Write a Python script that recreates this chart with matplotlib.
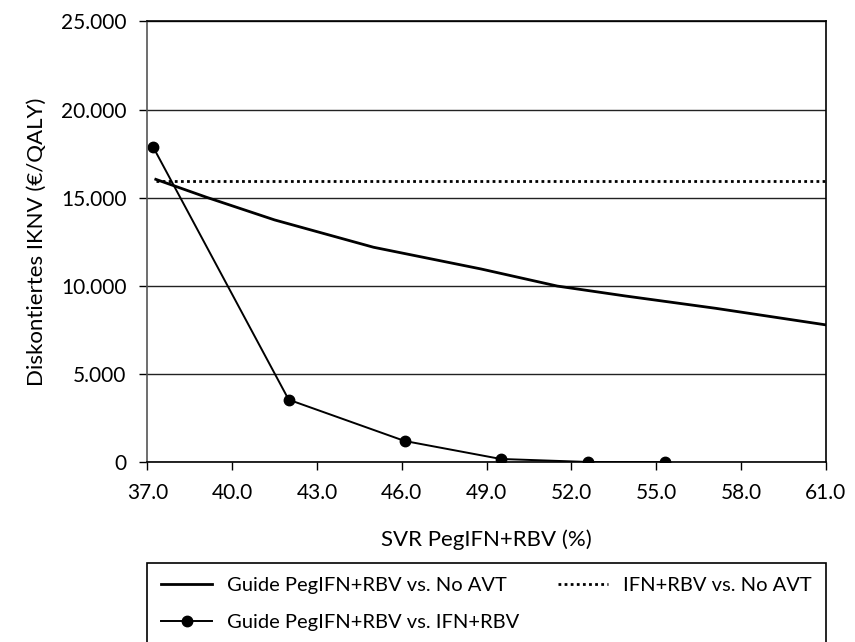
import matplotlib
matplotlib.use("Agg")
import matplotlib.pyplot as plt
import numpy as np
from matplotlib.ticker import FuncFormatter, FixedLocator, MultipleLocator

plt.rcParams['font.family'] = ['Lato', 'DejaVu Sans']

# Guide PegIFN+RBV vs. No AVT
svr_guide = [37.3, 39.1, 41.5, 45.0, 48.8, 51.5, 53.9, 57.1, 61.0]
iknv_guide = [16050, 15030, 13750, 12200, 10970, 10000, 9440, 8740, 7800]

# Guide PegIFN+RBV vs. IFN+RBV
svr_ifn = [37.2, 42.0, 46.1, 49.5, 52.6, 55.3]
iknv_ifn = [17900, 3560, 1220, 200, 30, 20]

# IFN+RBV vs. No AVT (konstant)
svr_const = [37.3, 61.0]
iknv_const = [15950, 15950]

x_ticks = [37.0, 40.0, 43.0, 46.0, 49.0, 52.0, 55.0, 58.0, 61.0]

labels = ["Guide PegIFN+RBV vs. No AVT",
          "Guide PegIFN+RBV vs. IFN+RBV",
          "IFN+RBV vs. No AVT"]

fig = plt.figure(figsize=(8.55, 6.42), dpi=100)
ax = fig.add_axes([0.1723, 0.2796, 0.7937, 0.687])

l1, = ax.plot(svr_guide, iknv_guide, color='black', lw=2.0, label=labels[0])
l2, = ax.plot(svr_ifn, iknv_ifn, color='black', lw=1.4, marker='o',
              markersize=7.5, label=labels[1])
l3, = ax.plot(svr_const, iknv_const, color='black', lw=2.0,
              linestyle=(0, (1, 1.2)), label=labels[2])

ax.set_xlim(37, 61)
ax.set_ylim(0, 25000)
ax.xaxis.set_major_locator(FixedLocator(x_ticks))
ax.yaxis.set_major_locator(MultipleLocator(5000))
ax.xaxis.set_major_formatter(FuncFormatter(lambda v, p: "%.1f" % v))
ax.yaxis.set_major_formatter(
    FuncFormatter(lambda v, p: "{:,}".format(int(round(v))).replace(",", ".")))

ax.grid(axis='y', color='#222222', lw=1.0)
ax.set_axisbelow(True)
for s in ['top', 'right', 'bottom']:
    ax.spines[s].set_color('black')
    ax.spines[s].set_linewidth(1.2)
ax.spines['left'].set_color('#555555')
ax.spines['left'].set_linewidth(1.2)

ax.tick_params(axis='x', direction='out', length=6, width=1, pad=9,
               labelsize=15)
ax.tick_params(axis='y', direction='out', length=6, width=1, pad=9,
               labelsize=15)

ax.set_xlabel("SVR PegIFN+RBV (%)", fontsize=16, labelpad=19)
ax.set_ylabel("Diskontiertes IKNV (\u20ac/QALY)", fontsize=16, labelpad=10)

leg = ax.legend(handles=[l1, l2, l3], ncol=2, mode='expand',
                loc='upper left',
                bbox_to_anchor=(0.0, -0.228, 1.0, 0.0),
                fontsize=14.5, frameon=True, fancybox=False,
                edgecolor='black', framealpha=1, handlelength=2.5,
                handletextpad=0.75, borderpad=0.7, labelspacing=1.0,
                borderaxespad=0)
leg.get_frame().set_linewidth(1.2)

fig.savefig("out.png", dpi=100)
